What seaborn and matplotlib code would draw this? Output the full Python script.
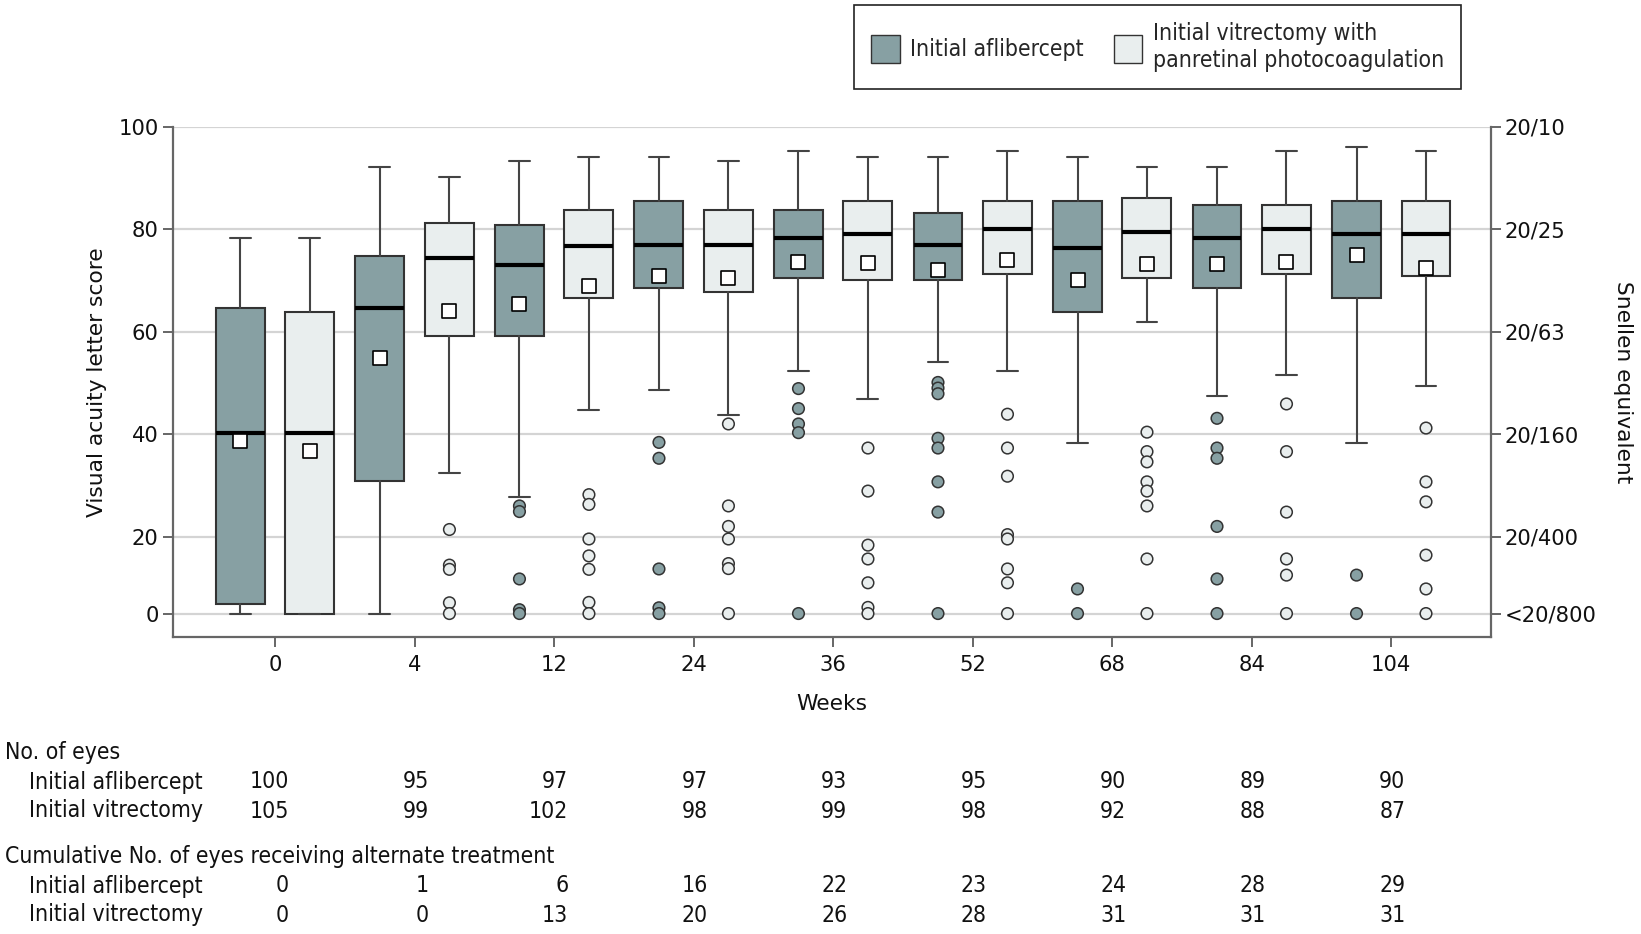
import numpy as np
import pandas as pd
import matplotlib
matplotlib.use("Agg")
import matplotlib.pyplot as plt
import matplotlib.transforms as mtransforms
from matplotlib.patches import Patch
import seaborn as sns

# ---- data (letter score) ----
weeks = ["0", "4", "12", "24", "36", "52", "68", "84", "104"]

afl_whislo = [0, 0, 27.8, 48.7, 52.3, 54.1, 38.2, 47.5, 38.2]
afl_q1 = [2.6, 30.9, 59.2, 68.5, 70.5, 70.1, 63.9, 68.5, 66.5]
afl_med = [40.2, 64.6, 73.1, 77.0, 78.2, 77.0, 76.4, 78.2, 79.0]
afl_q3 = [64.6, 74.7, 80.9, 85.6, 83.7, 83.2, 85.6, 84.8, 85.6]
afl_whishi = [78.2, 92.2, 93.3, 94.1, 95.3, 94.1, 94.1, 92.2, 96.1]
afl_mean = [38.7, 54.9, 65.4, 70.9, 73.6, 72.0, 70.1, 73.2, 75.0]
afl_fliers = [[], [], [26.0, 24.9, 9.0, 1.0, 0], [38.4, 35.3, 11.6, 1.5, 0],
              [48.9, 45.0, 42.0, 40.3, 0],
              [50.1, 49.0, 47.9, 39.2, 37.3, 30.7, 24.8, 0], [6.4, 0],
              [43.1, 37.3, 35.3, 22.0, 9.0, 0], [10.0, 0]]

vit_whislo = [0, 32.5, 44.8, 43.7, 46.9, 52.3, 61.9, 51.5, 49.5]
vit_q1 = [0, 59.2, 66.5, 67.7, 70.1, 71.3, 70.5, 71.3, 70.9]
vit_med = [40.2, 74.4, 76.7, 77.0, 79.0, 80.1, 79.4, 80.1, 79.0]
vit_q3 = [63.9, 81.3, 83.7, 83.7, 85.6, 85.6, 86.0, 84.8, 85.6]
vit_whishi = [78.2, 90.2, 94.1, 93.3, 94.1, 95.3, 92.2, 95.3, 95.3]
vit_mean = [36.7, 64.1, 69.0, 70.5, 73.4, 74.0, 73.2, 73.6, 72.4]
vit_fliers = [[], [21.4, 12.6, 11.5, 2.8, 0],
              [28.2, 26.3, 19.4, 15.0, 11.5, 2.9, 0],
              [42.0, 26.0, 22.0, 19.4, 13.0, 11.7, 0],
              [37.3, 28.9, 17.8, 14.2, 8.0, 1.6, 0],
              [43.9, 37.3, 31.8, 20.4, 19.4, 11.6, 8.0, 0],
              [40.4, 36.6, 34.6, 30.7, 28.9, 26.0, 14.2, 0],
              [45.9, 36.6, 24.8, 14.2, 10.0, 0],
              [41.2, 30.7, 26.8, 15.2, 6.4, 0]]

eyes_afl = [100, 95, 97, 97, 93, 95, 90, 89, 90]
eyes_vit = [105, 99, 102, 98, 99, 98, 92, 88, 87]
alt_afl = [0, 1, 6, 16, 22, 23, 24, 28, 29]
alt_vit = [0, 0, 13, 20, 26, 28, 31, 31, 31]

snellen_ticks = [0, 20, 40, 60, 80, 100]
snellen_labels = ["<20/800", "20/400", "20/160", "20/63", "20/25", "20/10"]

groups = ["Initial aflibercept", "Initial vitrectomy with\npanretinal photocoagulation"]
dark = "#87a0a3"
light = "#e9eeee"
edge = "#333333"
spine_col = "#666666"

sns.set_theme(style="white")
plt.rcParams["font.family"] = ["DejaVu Sans"]
cond = dict(family=["DejaVu Sans"], stretch="condensed")


# scores below 20 are drawn on a compressed scale
def fwd(v):
    v = np.asarray(v, dtype=float)
    return np.where(v >= 20, v, 5 + 0.75 * v)


def inv(t):
    t = np.asarray(t, dtype=float)
    return np.where(t >= 20, t, (t - 5) / 0.75)


fig = plt.figure(figsize=(16.41, 9.34), dpi=100)
ax = fig.add_axes([0.1052, 0.318, 0.8034, 0.5463])
ax.set_yscale("function", functions=(fwd, inv))

offset = 0.249
bw = 0.351
series = [
    (afl_whislo, afl_q1, afl_med, afl_q3, afl_whishi, afl_mean, afl_fliers, dark, -offset),
    (vit_whislo, vit_q1, vit_med, vit_q3, vit_whishi, vit_mean, vit_fliers, light, offset),
]

flier_rows = []
mean_rows = []
for k, (lo, q1, med, q3, hi, mn, fl, col, off) in enumerate(series):
    stats = []
    for i in range(len(weeks)):
        stats.append(dict(whislo=lo[i], q1=q1[i], med=med[i], q3=q3[i],
                          whishi=hi[i], mean=mn[i], fliers=[]))
        for f in fl[i]:
            flier_rows.append(dict(x=i + off, y=f, grp=groups[k]))
        mean_rows.append(dict(x=i + off, y=mn[i]))
    pos = np.arange(len(weeks)) + off
    ax.bxp(stats, positions=pos, widths=bw, patch_artist=True, showfliers=False,
           showmeans=False, capwidths=0.15,
           boxprops=dict(facecolor=col, edgecolor=edge, linewidth=1.5),
           medianprops=dict(color="black", linewidth=3),
           whiskerprops=dict(color="#444444", linewidth=1.5),
           capprops=dict(color="#444444", linewidth=1.5))

flier_df = pd.DataFrame(flier_rows)
mean_df = pd.DataFrame(mean_rows)
sns.scatterplot(data=flier_df, x="x", y="y", hue="grp", palette=[dark, light],
                s=70, edgecolor=edge, linewidth=1.1, legend=False, ax=ax, zorder=4)
sns.scatterplot(data=mean_df, x="x", y="y", marker="s", color="white", s=95,
                edgecolor="black", linewidth=1.2, legend=False, ax=ax, zorder=5)

ax.set_xlim(-0.735, 8.715)
ax.set_ylim(-6.1, 100)
ax.set_yticks([0, 20, 40, 60, 80, 100])
ax.set_yticklabels(["0", "20", "40", "60", "80", "100"])
ax.yaxis.set_minor_locator(matplotlib.ticker.NullLocator())
ax.set_xticks(range(len(weeks)))
ax.set_xticklabels(weeks)
ax.grid(axis="y", color="#d4d4d4", linewidth=1.6, zorder=0)
ax.set_axisbelow(True)
for s in ["left", "bottom", "right"]:
    ax.spines[s].set_color(spine_col)
    ax.spines[s].set_linewidth(1.6)
ax.spines["top"].set_visible(False)
ax.tick_params(axis="both", labelsize=15.2, length=7, width=1.4, color=spine_col,
               direction="out", left=True, bottom=True, pad=3, labelcolor="#111111")
ax.tick_params(axis="x", pad=6)
ax.set_xlabel("Weeks", fontsize=15.7, labelpad=14, color="#111111")
ax.set_ylabel("Visual acuity letter score", fontsize=15.7, labelpad=8, color="#111111")

ax2 = ax.twinx()
ax2.set_yscale("function", functions=(fwd, inv))
ax2.set_ylim(ax.get_ylim())
ax2.set_yticks(snellen_ticks)
ax2.set_yticklabels(snellen_labels)
ax2.yaxis.set_minor_locator(matplotlib.ticker.NullLocator())
for s in ax2.spines.values():
    s.set_visible(False)
ax2.tick_params(axis="y", labelsize=15.2, length=7, width=1.4, color=spine_col,
                direction="out", right=True, pad=3, labelcolor="#111111")
ax2.set_ylabel("Snellen equivalent", fontsize=15.7, rotation=270, labelpad=26, color="#111111")
ax2.grid(False)

# legend
handles = [Patch(facecolor=dark, edgecolor=edge, label=groups[0]),
           Patch(facecolor=light, edgecolor=edge, label=groups[1])]
leg = fig.legend(handles=handles, ncol=2, loc="upper right", bbox_to_anchor=(0.8904, 0.9944),
                 borderaxespad=0, frameon=True, fancybox=False, edgecolor="#222222",
                 framealpha=1, handlelength=1.25, handleheight=1.5, columnspacing=1.3,
                 handletextpad=0.45, borderpad=0.75, prop=dict(size=16.5, **cond))
leg.get_frame().set_linewidth(1.2)

# table of counts under the plot
trans = mtransforms.blended_transform_factory(ax.transData, fig.transFigure)
txt = dict(size=16.5, color="#111111", va="center", **cond)
rows = [
    ("No. of eyes", None, 752),
    ("Initial aflibercept", eyes_afl, 782),
    ("Initial vitrectomy", eyes_vit, 811),
    ("Cumulative No. of eyes receiving alternate treatment", None, 857),
    ("Initial aflibercept", alt_afl, 886),
    ("Initial vitrectomy", alt_vit, 915),
]
for label, vals, ypix in rows:
    yf = 1 - ypix / 934
    xl = 5 / 1641 if vals is None else 29 / 1641
    fig.text(xl, yf, label, ha="left", **txt)
    if vals is not None:
        for i, v in enumerate(vals):
            ax.text(i + 0.1, yf, str(v), ha="right", transform=trans, clip_on=False, **txt)

fig.savefig("out.png", dpi=100)
